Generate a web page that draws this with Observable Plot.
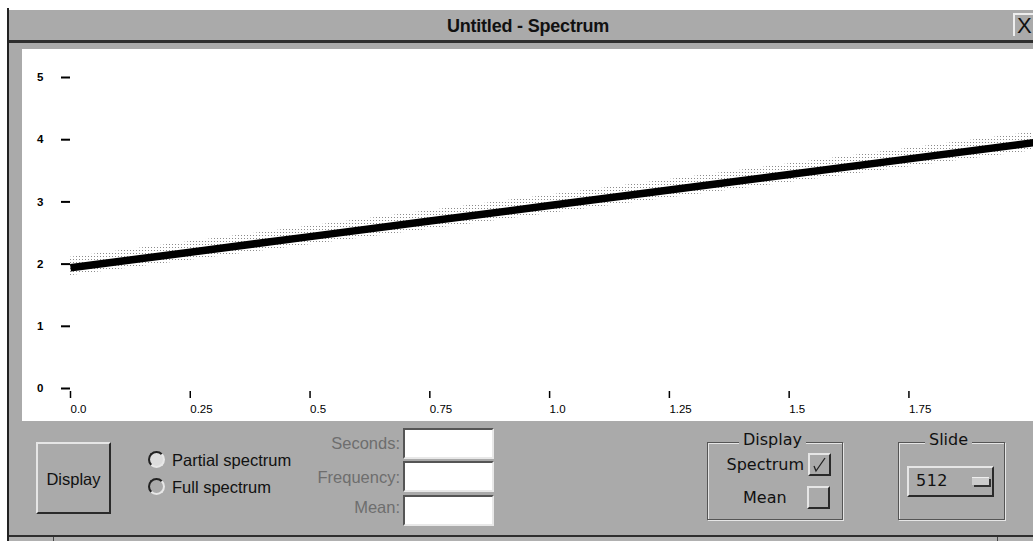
<!DOCTYPE html>
<html><head><meta charset="utf-8">
<script src="https://cdn.jsdelivr.net/npm/d3@7"></script>
<script src="https://cdn.jsdelivr.net/npm/@observablehq/plot@0.6"></script>
<style>
body{margin:0;width:1033px;height:541px;background:#fff;position:relative;overflow:hidden;font-family:"Liberation Sans",Arial,sans-serif;}
.a{position:absolute;box-sizing:border-box;}
.raised{border:2px solid;border-color:#e6e6e6 #2a2a2a #2a2a2a #e6e6e6;background:#aaa;}
.sunken{border:2px solid;border-color:#555 #e8e8e8 #e8e8e8 #555;background:#fff;}
.lbl{font-size:16.5px;color:#111;white-space:nowrap;line-height:20px;}
.dv{font-family:"DejaVu Sans",sans-serif;font-size:16px;}
.dim{color:#6e6e6e;text-align:right;}
.group{border:1px solid #555;box-shadow:1px 1px 0 #e6e6e6, inset 1px 1px 0 #e6e6e6;}
.gt{background:#aaa;padding:0 4px;font-family:"DejaVu Sans",sans-serif;font-size:16px;line-height:18px;color:#111;}
.radio{width:17px;height:17px;border-radius:50%;border:2px solid;border-color:#222 #e8e8e8 #e8e8e8 #222;}
</style></head>
<body>
<div class="a" style="left:7px;top:8px;width:2px;height:533px;background:#222"></div>
<div class="a" style="left:9px;top:10px;width:1024px;height:30px;background:#aaa"></div>
<div class="a" style="left:9px;top:40px;width:1024px;height:3px;background:#2e2e2e"></div>
<div class="a" style="left:0;top:11px;width:1056px;height:30px;text-align:center;font-weight:bold;font-size:18px;line-height:30px;color:#111;letter-spacing:-0.2px">Untitled - Spectrum</div>
<div class="a" style="left:1013px;top:13px;width:24px;height:23px;border-top:2px solid #eee;border-left:2px solid #eee;font-size:22px;line-height:21px;padding-left:2px;color:#111">X</div>
<div class="a" style="left:9px;top:43px;width:1024px;height:492px;background:#aaa"></div>
<div class="a" style="left:9px;top:535px;width:1024px;height:2px;background:#2e2e2e"></div>
<div class="a" style="left:9px;top:537px;width:1024px;height:4px;background:#b0b0b0"></div>
<div class="a" style="left:53px;top:537px;width:1px;height:4px;background:#444"></div>
<div class="a" style="left:997px;top:537px;width:1px;height:4px;background:#444"></div>
<div id="chart" class="a" style="left:22px;top:49px;width:1011px;height:372px;background:#fff"></div>

<div class="a raised lbl" style="left:36px;top:442px;width:75px;height:72px;text-align:center;line-height:70px">Display</div>

<div class="a radio" style="left:148px;top:451px;background:#ddd"></div>
<div class="a lbl" style="left:172px;top:450px">Partial spectrum</div>
<div class="a radio" style="left:148px;top:478px"></div>
<div class="a lbl" style="left:172px;top:477px">Full spectrum</div>

<div class="a lbl dim" style="left:290px;top:433px;width:110px">Seconds:</div>
<div class="a lbl dim" style="left:290px;top:467px;width:110px">Frequency:</div>
<div class="a lbl dim" style="left:290px;top:497px;width:110px">Mean:</div>
<div class="a sunken" style="left:403px;top:428px;width:91px;height:31px"></div>
<div class="a sunken" style="left:403px;top:461px;width:91px;height:31px"></div>
<div class="a sunken" style="left:403px;top:495px;width:91px;height:31px"></div>

<div class="a group" style="left:707px;top:442px;width:136px;height:78px"></div>
<div class="a gt" style="left:739px;top:431px">Display</div>
<div class="a lbl dv" style="left:700px;top:455px;width:104px;text-align:right">Spectrum</div>
<div class="a raised" style="left:808px;top:453px;width:23px;height:23px">
<svg width="19" height="19" style="position:absolute;left:0;top:0"><path d="M4 11 L6 16 L15 3" fill="none" stroke="#222" stroke-width="1.3"/></svg></div>
<div class="a lbl dv" style="left:743px;top:488px">Mean</div>
<div class="a raised" style="left:807px;top:486px;width:23px;height:23px"></div>

<div class="a group" style="left:898px;top:442px;width:107px;height:78px"></div>
<div class="a gt" style="left:925px;top:431px">Slide</div>
<div class="a raised" style="left:907px;top:466px;width:87px;height:31px"></div>
<div class="a lbl dv" style="left:916px;top:471px;letter-spacing:0.5px">512</div>
<div class="a" style="left:972px;top:477px;width:17px;height:8px;background:#ccc;border-top:1px solid #eee;box-shadow:2px 2px 0 #333"></div>

<script>
// Spectrum (frequency vs value)
const freq     = [0, 0.25, 0.5, 0.75, 1.0, 1.25, 1.5, 1.75, 2.01];
const power    = [1.99, 2.24, 2.49, 2.74, 2.99, 3.24, 3.49, 3.74, 4.0];
const haloHigh = [2.16, 2.41, 2.66, 2.91, 3.16, 3.41, 3.66, 3.91, 4.17];
const haloLow  = [1.86, 2.11, 2.36, 2.61, 2.86, 3.11, 3.36, 3.61, 3.87];
const xTicks = [0, 0.25, 0.5, 0.75, 1.0, 1.25, 1.5, 1.75];
const xTickLabels = ["0.0", "0.25", "0.5", "0.75", "1.0", "1.25", "1.5", "1.75"];
const yTicks = [0, 1, 2, 3, 4, 5];
const yTickLabels = ["0", "1", "2", "3", "4", "5"];

const data = freq.map((f, i) => ({f, p: power[i], hi: haloHigh[i], lo: haloLow[i]}));

const svg = Plot.plot({
  width: 1011, height: 372,
  marginLeft: 48, marginRight: 0, marginTop: 31, marginBottom: 30,
  x: {domain: [0, 2.01], label: null},
  y: {domain: [0, 5], label: null},
  style: {background: "transparent", fontFamily: "'Liberation Sans', Arial, sans-serif", fontSize: "11.5px", color: "#000"},
  marks: [
    Plot.areaY(data, {x: "f", y1: "lo", y2: "hi", fill: "url(#dots)"}),
    Plot.line(data, {x: "f", y: "p", stroke: "#000", strokeWidth: 7.5, strokeLinecap: "butt"}),
    Plot.axisY(yTicks, {tickSize: 9, tickPadding: 18, strokeWidth: 2, dy: -3, label: null, fontWeight: "bold",
      tickFormat: d => yTickLabels[yTicks.indexOf(d)]}),
    Plot.axisX(xTicks, {tickSize: 7, tickPadding: 6, textAnchor: "start", strokeWidth: 1.5, label: null,
      tickFormat: d => xTickLabels[xTicks.indexOf(d)]})
  ]
});
const defs = document.createElementNS("http://www.w3.org/2000/svg", "defs");
defs.innerHTML = '<pattern id="dots" width="3" height="3" patternUnits="userSpaceOnUse"><rect width="1" height="1" fill="#8a8a8a"/></pattern>';
svg.insertBefore(defs, svg.firstChild);
document.getElementById("chart").appendChild(svg);
</script>
</body></html>
